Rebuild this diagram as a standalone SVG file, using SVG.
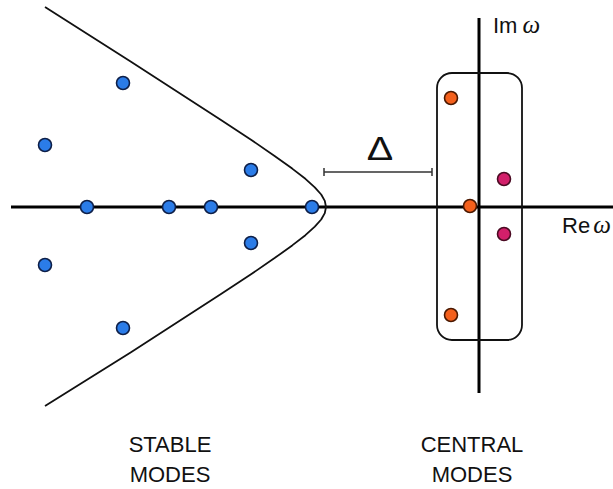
<svg xmlns="http://www.w3.org/2000/svg" width="613" height="489" viewBox="0 0 613 489">
<style>
.axis{stroke:#000;stroke-width:3;fill:none}
.curve{stroke:#111;stroke-width:1.8;fill:none;stroke-linejoin:round}
.box{stroke:#111;stroke-width:1.8;fill:none}
.dim{stroke:#333;stroke-width:1.5;fill:none}
.stable{fill:#2b7ce8;stroke:#0e1f48;stroke-width:1.6}
.central{fill:#f4601c;stroke:#4a1800;stroke-width:1.6}
.unstable{fill:#d21f6a;stroke:#4a0a22;stroke-width:1.6}
.lbl{font-family:"Liberation Sans",Arial,sans-serif;font-size:22px;fill:#111}
.om{font-family:"Liberation Serif","Times New Roman",serif;font-style:italic;font-size:25px;fill:#111}
</style>
<rect width="613" height="489" fill="#fff"/>
<g id="connectors">
<line class="axis" x1="11" y1="207" x2="613" y2="207"/>
<line class="axis" x1="479" y1="18" x2="479" y2="393"/>
<polyline class="curve" points="45,7 131,61.8 221,120 251.4,140 274.6,155.9 292.2,168.6 305.4,178.8 314.8,187.3 321.2,194.5 324.8,200.9 326,207 324.8,213.1 321.2,219.5 314.8,226.7 305.4,235.2 292.2,245.4 274.6,258.1 251.4,274 221,294 131,352.2 45,406"/>
<rect class="box" x="437" y="73" width="85" height="267" rx="15" ry="15"/>
<path class="dim" d="M324 172 H432 M324 168 V176 M432 168 V176"/>
</g>
<g id="stable-modes">
<circle class="stable" cx="123" cy="83" r="6.5"/>
<circle class="stable" cx="45" cy="145" r="6.5"/>
<circle class="stable" cx="251" cy="170" r="6.5"/>
<circle class="stable" cx="87" cy="207" r="6.5"/>
<circle class="stable" cx="169" cy="207" r="6.5"/>
<circle class="stable" cx="211" cy="207" r="6.5"/>
<circle class="stable" cx="312" cy="207" r="6.5"/>
<circle class="stable" cx="251" cy="243" r="6.5"/>
<circle class="stable" cx="45" cy="265" r="6.5"/>
<circle class="stable" cx="123" cy="328" r="6.5"/>
</g>
<g id="central-modes">
<circle class="central" cx="451" cy="98" r="6.5"/>
<circle class="central" cx="470" cy="206" r="6.5"/>
<circle class="central" cx="451" cy="315" r="6.5"/>
<circle class="unstable" cx="504" cy="179" r="6.5"/>
<circle class="unstable" cx="504" cy="234" r="6.5"/>
</g>
<g id="labels">
<text class="lbl" x="493" y="33">Im<tspan class="om" dx="5">ω</tspan></text>
<text class="lbl" x="562" y="233">Re<tspan class="om" dx="3">ω</tspan></text>
<text x="0" y="0" text-anchor="middle" transform="translate(380 160) scale(1.2 1)" font-family="Liberation Sans,Arial,sans-serif" font-size="33" fill="#111">Δ</text>
<text class="lbl" x="170" y="452" text-anchor="middle">STABLE</text>
<text class="lbl" x="170" y="482" text-anchor="middle">MODES</text>
<text class="lbl" x="472" y="452" text-anchor="middle">CENTRAL</text>
<text class="lbl" x="472" y="482" text-anchor="middle">MODES</text>
</g>
</svg>
